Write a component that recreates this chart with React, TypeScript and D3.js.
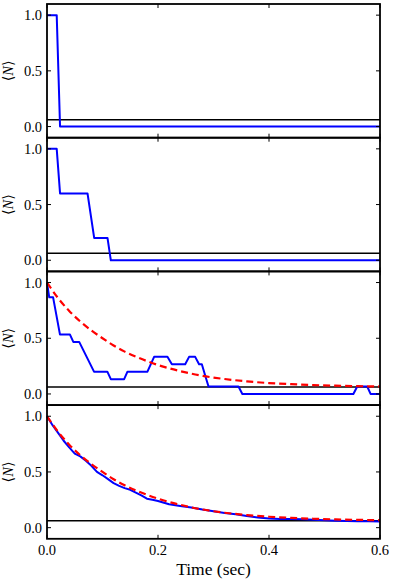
import React from 'react'
import * as d3 from 'd3'

const singleT = [0, 0.0175, 0.0235, 0.6]
const singleN = [1, 1, 0, 0]

const fiveT = [0, 0.0175, 0.0235, 0.073, 0.085, 0.109, 0.115, 0.6]
const fiveN = [1, 1, 0.6, 0.6, 0.2, 0.2, 0, 0]

const fifteenT = [0, 0.004, 0.011, 0.0234, 0.0414, 0.0474, 0.058, 0.0847, 0.1087, 0.115, 0.139, 0.145, 0.181, 0.193, 0.217, 0.225, 0.249, 0.256, 0.267, 0.274, 0.279, 0.285, 0.291, 0.345, 0.352, 0.552, 0.559, 0.577, 0.583, 0.6]
const fifteenN = [1, 0.867, 0.867, 0.533, 0.533, 0.467, 0.467, 0.2, 0.2, 0.133, 0.133, 0.2, 0.2, 0.333, 0.333, 0.267, 0.267, 0.333, 0.333, 0.267, 0.267, 0.165, 0.067, 0.067, 0, 0, 0.067, 0.067, 0, 0]

const manyT = [0, 0.01, 0.02, 0.03, 0.04, 0.05, 0.06, 0.07, 0.08, 0.09, 0.1, 0.11, 0.12, 0.13, 0.14, 0.15, 0.16, 0.17, 0.18, 0.19, 0.2, 0.22, 0.24, 0.26, 0.28, 0.3, 0.32, 0.34, 0.36, 0.38, 0.4, 0.42, 0.44, 0.46, 0.48, 0.5, 0.52, 0.54, 0.56, 0.58, 0.6]
const manyN = [1, 0.92, 0.85, 0.78, 0.72, 0.665, 0.64, 0.6, 0.555, 0.5, 0.47, 0.435, 0.4, 0.375, 0.355, 0.34, 0.315, 0.29, 0.26, 0.25, 0.24, 0.21, 0.195, 0.18, 0.162, 0.148, 0.132, 0.12, 0.105, 0.092, 0.082, 0.078, 0.078, 0.075, 0.07, 0.066, 0.062, 0.06, 0.058, 0.057, 0.056]

// expected decay (red dashed)
const expT = [0, 0.02, 0.04, 0.06, 0.08, 0.1, 0.12, 0.14, 0.16, 0.18, 0.2, 0.24, 0.28, 0.32, 0.36, 0.4, 0.44, 0.48, 0.52, 0.56, 0.6]
const expN = [1.0, 0.86, 0.745, 0.65, 0.57, 0.5, 0.435, 0.38, 0.335, 0.295, 0.26, 0.205, 0.163, 0.134, 0.113, 0.098, 0.088, 0.08, 0.074, 0.07, 0.067]

const threshold = 0.062
const xTicks = [0, 0.2, 0.4, 0.6]
const yTicks = [0, 0.5, 1.0]

const panels = [
  {t: singleT, n: singleN, showExp: false},
  {t: fiveT, n: fiveN, showExp: false},
  {t: fifteenT, n: fifteenN, showExp: true},
  {t: manyT, n: manyN, showExp: true}
]

const serif = {fontFamily: "'Liberation Serif', 'Times New Roman', 'DejaVu Serif', serif"}

export default function App() {
  const width = 396
  const height = 580
  const left = 47
  const right = 380
  const top = 4
  const panelH = 133.7

  const x = d3.scaleLinear().domain([0, 0.6]).range([left, right])

  return (
    <svg width={width} height={height} style={{position: 'absolute', left: 0, top: 0, background: '#fff'}}>
      {panels.map((p, i) => {
        const y0 = top + i * panelH
        const y = d3.scaleLinear().domain([-0.1, 1.1]).range([y0 + panelH, y0])
        const line = d3
          .line<number>()
          .x((d, j) => x(p.t[j]))
          .y(d => y(d))
        const expLine = d3
          .line<number>()
          .x((d, j) => x(expT[j]))
          .y(d => y(d))
          .curve(d3.curveMonotoneX)
        return (
          <g key={i}>
            <line x1={x(0)} x2={x(0.6)} y1={y(threshold)} y2={y(threshold)} stroke="#000" strokeWidth={1.5} />
            <path d={line(p.n) || ''} fill="none" stroke="#0000ff" strokeWidth={2} strokeLinejoin="round" />
            {p.showExp && (
              <path d={expLine(expN) || ''} fill="none" stroke="#ff0000" strokeWidth={2.2} strokeDasharray="7,4" />
            )}
            {yTicks.map(v => (
              <g key={v}>
                <line x1={left} x2={left + 4} y1={y(v)} y2={y(v)} stroke="#000" />
                <line x1={right - 4} x2={right} y1={y(v)} y2={y(v)} stroke="#000" />
                <text x={42} y={y(v)} dy="0.35em" textAnchor="end" style={serif} fontSize={14.5}>
                  {v.toFixed(1)}
                </text>
              </g>
            ))}
            {xTicks.map(v => (
              <g key={v}>
                <line x1={x(v)} x2={x(v)} y1={y0} y2={y0 + 4} stroke="#000" />
                <line x1={x(v)} x2={x(v)} y1={y0 + panelH - 4} y2={y0 + panelH} stroke="#000" />
              </g>
            ))}
            <rect x={left} y={y0} width={right - left} height={panelH} fill="none" stroke="#000" strokeWidth={1.8} />
            <text
              transform={`translate(13,${y(0.5)}) rotate(-90)`}
              textAnchor="middle"
              style={serif}
              fontSize={14.5}
            >
              ⟨<tspan fontStyle="italic">N</tspan>⟩
            </text>
          </g>
        )
      })}
      {xTicks.map(v => (
        <text key={v} x={x(v)} y={555} textAnchor="middle" style={serif} fontSize={14.5}>
          {v.toFixed(1)}
        </text>
      ))}
      <text x={(left + right) / 2} y={575} textAnchor="middle" style={serif} fontSize={17.5}>
        Time (sec)
      </text>
    </svg>
  )
}
